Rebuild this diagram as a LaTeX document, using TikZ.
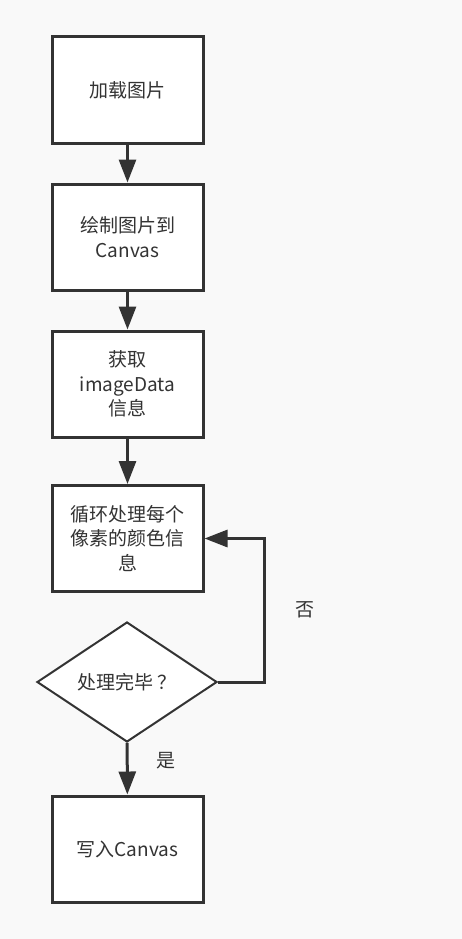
\documentclass[tikz,border=0pt]{standalone}
\usepackage{fontspec}
\setmainfont{Noto Sans CJK SC}
\usetikzlibrary{arrows.meta,shapes.geometric}
\definecolor{linegray}{HTML}{333333}
\definecolor{pagegray}{HTML}{F9F9F9}
\begin{document}
\begin{tikzpicture}[x=1pt,y=-1pt,
    stepbox/.style={draw=linegray, line width=3pt, fill=white, minimum width=151pt,
        minimum height=106pt, inner sep=0pt, align=center, text=linegray},
    checkbox/.style={diamond, draw=linegray, line width=2pt, fill=white,
        minimum width=180pt, minimum height=120pt, inner sep=0pt, text=linegray},
    flow/.style={draw=linegray, line width=3pt, -{Triangle[length=23pt,width=17pt]}},
    tag/.style={text=linegray, inner sep=0pt}]
\fontsize{19pt}{24.5pt}\selectfont

    \fill[pagegray] (0,0) rectangle (462,939);
    \useasboundingbox (0,0) rectangle (462,939);

    % steps, top to bottom
    \node [stepbox] (load) at (127.5,90) {加载图片};
    \node [stepbox] (paint) at (127.5,237) {绘制图片到\\Canvas};
    \node [stepbox] (fetch) at (127.5,384) {获取\\imageData\\信息};
    \node [stepbox] (loop) at (127.5,538.5) {循环处理每个\\像素的颜色信\\息};
    \node [checkbox] (check) at (127,682) {处理完毕\,？};
    \node [stepbox] (write) at (127.5,849) {写入Canvas};

    \draw [flow] (load) -- (paint);
    \draw [flow] (paint) -- (fetch);
    \draw [flow] (fetch) -- (loop);
    \draw [flow] (check) -- node [tag, right=28pt, pos=0.35] {是} (write);
    \draw [flow] (check.east) -- ++(46,0) |- node [tag, right=30pt, pos=0.25] {否} (loop.east);

\end{tikzpicture}
\end{document}
